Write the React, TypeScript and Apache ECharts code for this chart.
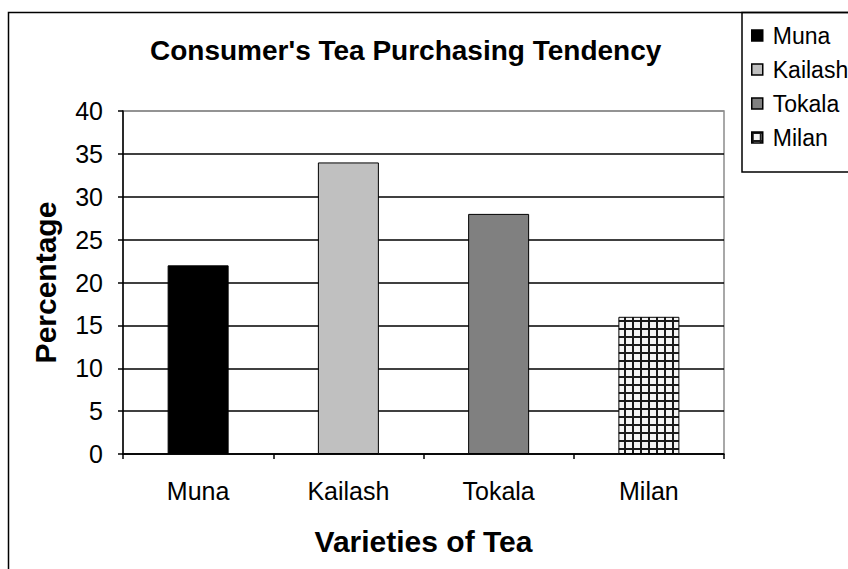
import React, { useEffect, useRef } from "react";
import * as echarts from "echarts";

const categories = ["Muna", "Kailash", "Tokala", "Milan"];
const values = [22, 34, 28, 16];
const yTicks = [0, 5, 10, 15, 20, 25, 30, 35, 40];
const titleText = "Consumer's Tea Purchasing Tendency";
const xName = "Varieties of Tea";
const yName = "Percentage";

const tileSvg =
  "<svg xmlns='http://www.w3.org/2000/svg' width='8' height='8'>" +
  "<rect width='8' height='8' fill='#f4f4f4'/>" +
  "<rect x='0' y='0' width='8' height='2' fill='#1a1a1a'/>" +
  "<rect x='0' y='0' width='2' height='8' fill='#1a1a1a'/>" +
  "</svg>";
const tileUrl = "data:image/svg+xml;charset=utf-8," + encodeURIComponent(tileSvg);

export default function App() {
  const ref = useRef<HTMLDivElement>(null);
  useEffect(() => {
    if (!ref.current) return;
    const chart = echarts.init(ref.current, undefined, { renderer: "svg" });
    const patternColor: any = { image: tileUrl, repeat: "repeat" };
    const fills: any[] = ["#000000", "#c0c0c0", "#808080", patternColor];
    const font = "Liberation Sans, Arial, sans-serif";
    const series = categories.map((name, i) => ({
      type: "bar",
      name,
      barWidth: 61,
      barGap: "-100%",
      data: categories.map((_, j) => (j === i ? values[i] : "-")),
      itemStyle: { color: fills[i], borderColor: "#000", borderWidth: 1 },
    }));
    const splitColors = yTicks.map((t, i) => (i === yTicks.length - 1 ? "#8c8c8c" : "#000"));
    chart.setOption({
      animation: false,
      backgroundColor: "#fff",
      textStyle: { fontFamily: font },
      title: {
        text: titleText,
        left: 145,
        top: 31,
        textStyle: { fontSize: 28, fontWeight: "bold", color: "#000", fontFamily: font },
      },
      legend: {
        orient: "vertical",
        left: 746,
        top: 19,
        itemWidth: 11,
        itemHeight: 11,
        itemGap: 11,
        icon: "rect",
        data: categories,
        textStyle: { fontSize: 23, color: "#000", fontFamily: font, padding: [0, 0, 0, 5] },
        itemStyle: { borderColor: "#000", borderWidth: 1.5 },
      },
      grid: {
        left: 123,
        top: 111,
        right: 124,
        bottom: 115,
        show: true,
        borderColor: "#8c8c8c",
        borderWidth: 1.5,
      },
      xAxis: {
        type: "category",
        data: categories,
        boundaryGap: true,
        name: xName,
        nameLocation: "middle",
        nameGap: 72,
        nameTextStyle: { fontSize: 30, fontWeight: "bold", color: "#000", fontFamily: font },
        axisLine: { lineStyle: { color: "#000", width: 1.5 } },
        axisTick: { show: true, length: 5, alignWithLabel: false, lineStyle: { color: "#000", width: 1.5 } },
        axisLabel: { fontSize: 25, color: "#000", margin: 24, fontFamily: font },
      },
      yAxis: {
        type: "value",
        min: 0,
        max: 40,
        interval: 5,
        name: yName,
        nameLocation: "middle",
        nameGap: 63,
        nameTextStyle: { fontSize: 30, fontWeight: "bold", color: "#000", fontFamily: font },
        axisLine: { show: true, lineStyle: { color: "#000", width: 1.5 } },
        axisTick: { show: true, length: 5, lineStyle: { color: "#000", width: 1.5 } },
        axisLabel: { fontSize: 25, color: "#000", margin: 20, fontFamily: font },
        splitLine: { show: true, lineStyle: { color: splitColors, width: 1.5 } },
      },
      graphic: [
        {
          type: "polyline",
          shape: { points: [[8.5, 569], [8.5, 12.5], [848, 12.5]] },
          style: { stroke: "#000", lineWidth: 1.5, fill: "none" },
          silent: true,
        },
        {
          type: "rect",
          shape: { x: 742, y: 12.5, width: 120, height: 159.5 },
          style: { stroke: "#000", lineWidth: 1.5, fill: "none" },
          silent: true,
        },
      ],
      series,
    });
    return () => chart.dispose();
  }, []);
  return (
    <div
      ref={ref}
      style={{ position: "fixed", left: 0, top: 0, width: 848, height: 569 }}
    />
  );
}
